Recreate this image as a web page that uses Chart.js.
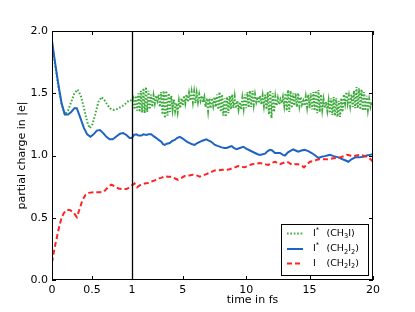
<!DOCTYPE html>
<html>
<head>
<meta charset="utf-8">
<script src="https://cdn.jsdelivr.net/npm/chart.js@4/dist/chart.umd.min.js"></script>
<style>
html,body{margin:0;padding:0;background:#fff;}
#wrap{width:415px;height:312px;position:relative;}
</style>
</head>
<body>
<div id="wrap"><canvas id="c" width="415" height="312"></canvas></div>
<script>
// ---- tick labels ----
const xTickTimes = [0, 0.5, 1, 5, 10, 15, 20];
const xTickLabels = ['0', '0.5', '1', '5', '10', '15', '20'];
const yTickValues = [0, 0.5, 1, 1.5, 2];
const xTitle = 'time in fs';
const yTitle = 'partial charge in |e|';

// ---- series: [time in fs, partial charge] ----
const iStarCH3I = [
 [0,1.91],[0.04,1.72],[0.08,1.55],[0.12,1.41],[0.16,1.33],[0.2,1.36],[0.24,1.43],[0.28,1.50],
 [0.32,1.53],[0.36,1.48],[0.4,1.38],[0.44,1.27],[0.47,1.22],[0.5,1.24],[0.54,1.33],[0.58,1.43],
 [0.62,1.47],[0.66,1.44],[0.7,1.40],[0.74,1.37],[0.78,1.365],[0.82,1.375],[0.86,1.39],[0.9,1.405],
 [0.94,1.43],[0.97,1.445],[1.0,1.44],
 [1.1,1.46],[1.2,1.37],[1.3,1.48],[1.4,1.36],[1.5,1.50],[1.6,1.35],[1.7,1.52],[1.8,1.345],[1.9,1.54],[2.0,1.34],
 [2.1,1.55],[2.2,1.35],[2.3,1.52],[2.4,1.37],[2.5,1.49],[2.6,1.39],[2.7,1.48],[2.8,1.42],[2.9,1.48],[3.0,1.44],
 [3.1,1.49],[3.2,1.39],[3.3,1.51],[3.4,1.33],[3.5,1.52],[3.6,1.30],[3.7,1.52],[3.8,1.32],[3.9,1.50],[4.0,1.35],
 [4.1,1.48],[4.2,1.37],[4.3,1.45],[4.4,1.36],[4.5,1.42],[4.6,1.35],[4.7,1.44],[4.8,1.38],[4.9,1.46],[5.0,1.40],
 [5.1,1.48],[5.2,1.42],[5.3,1.49],[5.4,1.43],[5.5,1.50],[5.6,1.44],[5.7,1.51],[5.8,1.43],[5.9,1.51],[6.0,1.42],
 [6.1,1.50],[6.2,1.43],[6.3,1.49],[6.4,1.44],[6.5,1.48],[6.6,1.43],[6.7,1.47],[6.8,1.39],[6.9,1.46],[7.0,1.36],
 [7.1,1.46],[7.2,1.38],[7.3,1.46],[7.4,1.40],[7.5,1.47],[7.6,1.39],[7.7,1.49],[7.8,1.37],[7.9,1.51],[8.0,1.35],
 [8.1,1.49],[8.2,1.32],[8.3,1.46],[8.4,1.31],[8.5,1.47],[8.6,1.34],[8.7,1.48],[8.8,1.37],[8.9,1.49],[9.0,1.38],
 [9.1,1.47],[9.2,1.38],[9.3,1.44],[9.4,1.37],[9.5,1.43],[9.6,1.37],[9.7,1.46],[9.8,1.38],[9.9,1.49],[10.0,1.38],
 [10.1,1.51],[10.2,1.385],[10.3,1.52],[10.4,1.39],[10.5,1.52],[10.6,1.41],[10.7,1.49],[10.8,1.43],[10.9,1.47],[11.0,1.42],
 [11.1,1.48],[11.2,1.41],[11.3,1.48],[11.4,1.40],[11.5,1.49],[11.6,1.37],[11.7,1.51],[11.8,1.33],[11.9,1.525],[12.0,1.30],
 [12.1,1.50],[12.2,1.35],[12.3,1.47],[12.4,1.40],[12.5,1.46],[12.6,1.41],[12.7,1.45],[12.8,1.42],[12.9,1.47],[13.0,1.40],
 [13.1,1.50],[13.2,1.36],[13.3,1.525],[13.4,1.35],[13.5,1.52],[13.6,1.38],[13.7,1.50],[13.8,1.40],[13.9,1.50],[14.0,1.39],
 [14.1,1.50],[14.2,1.40],[14.3,1.47],[14.4,1.41],[14.5,1.44],[14.6,1.40],[14.7,1.47],[14.8,1.39],[14.9,1.49],[15.0,1.38],
 [15.1,1.50],[15.2,1.37],[15.3,1.51],[15.4,1.36],[15.5,1.52],[15.6,1.34],[15.7,1.525],[15.8,1.35],[15.9,1.49],[16.0,1.37],
 [16.1,1.45],[16.2,1.38],[16.3,1.43],[16.4,1.36],[16.5,1.44],[16.6,1.34],[16.7,1.46],[16.8,1.325],[16.9,1.47],[17.0,1.32],
 [17.1,1.46],[17.2,1.31],[17.3,1.44],[17.4,1.31],[17.5,1.46],[17.6,1.35],[17.7,1.49],[17.8,1.42],[17.9,1.51],[18.0,1.42],
 [18.1,1.48],[18.2,1.40],[18.3,1.49],[18.4,1.39],[18.5,1.52],[18.6,1.38],[18.7,1.55],[18.8,1.38],[18.9,1.54],[19.0,1.37],
 [19.1,1.53],[19.2,1.36],[19.3,1.51],[19.4,1.36],[19.5,1.48],[19.6,1.37],[19.7,1.45],[19.8,1.39],[19.9,1.43],[20.0,1.40]
];
const iStarCH2I2 = [
 [0,1.92],[0.04,1.74],[0.08,1.57],[0.12,1.42],[0.16,1.33],[0.2,1.33],[0.24,1.35],[0.28,1.38],
 [0.31,1.38],[0.35,1.31],[0.4,1.22],[0.44,1.17],[0.48,1.15],[0.52,1.17],[0.56,1.20],[0.6,1.205],
 [0.64,1.18],[0.68,1.15],[0.72,1.13],[0.76,1.13],[0.8,1.15],[0.85,1.175],[0.89,1.18],[0.93,1.165],
 [0.97,1.14],[1.0,1.14],
 [1.15,1.165],[1.34,1.17],[1.5,1.16],[1.73,1.16],[1.9,1.17],[2.13,1.165],[2.3,1.17],[2.52,1.17],
 [2.7,1.155],[2.92,1.14],[3.1,1.125],[3.31,1.11],[3.45,1.09],[3.58,1.085],[3.75,1.095],[3.97,1.10],
 [4.15,1.115],[4.37,1.125],[4.55,1.14],[4.76,1.15],[4.95,1.14],[5.15,1.125],[5.35,1.11],[5.55,1.10],
 [5.75,1.09],[5.94,1.085],[6.15,1.10],[6.34,1.11],[6.6,1.12],[6.86,1.13],[7.05,1.12],[7.25,1.11],
 [7.54,1.085],[7.8,1.075],[8.07,1.065],[8.3,1.06],[8.47,1.06],[8.7,1.07],[8.86,1.075],[9.05,1.06],
 [9.25,1.05],[9.5,1.06],[9.78,1.07],[10.0,1.055],[10.3,1.04],[10.5,1.03],[10.7,1.02],[10.9,1.01],
 [11.09,1.005],[11.3,1.01],[11.49,1.015],[11.7,1.035],[11.88,1.045],[12.05,1.04],[12.27,1.02],
 [12.5,1.02],[12.67,1.02],[12.9,1.005],[13.06,1.0],[13.3,1.025],[13.46,1.035],[13.7,1.05],[13.9,1.04],
 [14.1,1.03],[14.35,1.04],[14.6,1.045],[14.9,1.035],[15.17,1.02],[15.45,1.0],[15.7,0.98],[15.95,0.99],
 [16.2,0.995],[16.4,1.0],[16.6,1.005],[16.9,0.995],[17.27,0.985],[17.6,0.97],[17.85,0.96],[18.05,0.95],
 [18.3,0.97],[18.6,0.985],[18.9,0.985],[19.24,0.99],[19.5,1.0],[19.75,1.005],[20.0,1.01]
];
const iCH2I2 = [
 [0,0.14],[0.03,0.25],[0.06,0.34],[0.09,0.43],[0.12,0.50],[0.15,0.54],[0.19,0.565],[0.23,0.56],
 [0.27,0.54],[0.31,0.505],[0.34,0.56],[0.38,0.64],[0.42,0.685],[0.46,0.70],[0.52,0.705],[0.6,0.705],
 [0.65,0.71],[0.7,0.745],[0.74,0.765],[0.78,0.755],[0.83,0.735],[0.88,0.73],[0.93,0.73],[0.97,0.745],
 [1.0,0.76],
 [1.2,0.775],[1.4,0.745],[1.6,0.76],[1.8,0.765],[2.0,0.775],[2.3,0.78],[2.5,0.79],[2.8,0.80],
 [3.05,0.815],[3.3,0.82],[3.6,0.835],[3.8,0.83],[4.1,0.83],[4.4,0.815],[4.63,0.805],[4.9,0.82],
 [5.15,0.835],[5.5,0.84],[5.8,0.845],[6.1,0.84],[6.34,0.83],[6.6,0.84],[6.86,0.85],[7.2,0.865],
 [7.5,0.88],[7.8,0.88],[8.17,0.885],[8.5,0.885],[8.7,0.89],[9.0,0.90],[9.36,0.915],[9.6,0.91],
 [9.88,0.905],[10.2,0.92],[10.46,0.93],[10.8,0.935],[11.1,0.94],[11.4,0.93],[11.75,0.925],[12.0,0.94],
 [12.27,0.95],[12.67,0.93],[12.9,0.94],[13.2,0.95],[13.4,0.94],[13.6,0.925],[13.85,0.93],[14.1,0.93],
 [14.35,0.92],[14.56,0.905],[14.8,0.93],[15.03,0.95],[15.3,0.955],[15.56,0.965],[15.8,0.97],
 [16.08,0.97],[16.4,0.97],[16.75,0.975],[17.1,0.98],[17.4,0.985],[17.7,0.995],[17.93,1.005],[18.2,1.0],
 [18.45,0.995],[18.7,1.0],[18.98,1.005],[19.2,1.0],[19.5,0.99],[19.75,0.975],[20.0,0.95]
];
const seriesLabels = ['I^*  (CH_3I)', 'I^*  (CH_2I_2)', 'I   (CH_2I_2)'];
const seriesColors = ['#3cab3c', '#1f64c0', '#ff2222'];

// ---- broken time axis: 0..1 fs linear, 1..20 fs compressed ----
const BREAK = 1, SLOPE = 0.15855;
function tr(t) { return t <= BREAK ? t : BREAK + (t - BREAK) * SLOPE; }
function toXY(arr) { return arr.map(p => ({x: tr(p[0]), y: p[1]})); }

const FONT = '"DejaVu Sans", sans-serif';

const styles = [
  {borderWidth: 2, borderDash: [1.6, 1.8]},
  {borderWidth: 2, borderDash: []},
  {borderWidth: 2, borderDash: [5, 3]}
];

function drawRich(ctx, text, x, y, size) {
  // '_d' => subscript digit, '^c' => superscript char
  let cx = x;
  for (let i = 0; i < text.length; i++) {
    const ch = text[i];
    if ((ch === '_' || ch === '^') && i + 1 < text.length) {
      const s = text[i + 1]; i++;
      ctx.font = (size * 0.7).toFixed(1) + 'px ' + FONT;
      const dy = ch === '_' ? size * 0.3 : -size * 0.35;
      ctx.fillText(s, cx, y + dy);
      cx += ctx.measureText(s).width;
    } else {
      ctx.font = size + 'px ' + FONT;
      ctx.fillText(ch, cx, y);
      cx += ctx.measureText(ch).width;
    }
  }
}

const decor = {
  id: 'decor',
  afterDatasetsDraw(chart) {
    const ctx = chart.ctx, a = chart.chartArea;
    const xs = chart.scales.x, ys = chart.scales.y;
    ctx.save();
    ctx.strokeStyle = '#000';
    ctx.lineWidth = 1;
    // frame
    ctx.strokeRect(Math.round(a.left) + 0.5, Math.round(a.top) + 0.5,
                   Math.round(a.right - a.left) - 1, Math.round(a.bottom - a.top) - 1);
    // break line at t = 1
    const xb = Math.round(xs.getPixelForValue(tr(BREAK))) + 0.5;
    ctx.lineWidth = 1.3;
    ctx.beginPath(); ctx.moveTo(xb, a.top); ctx.lineTo(xb, a.bottom); ctx.stroke();
    ctx.lineWidth = 1;
    // inward ticks
    ctx.beginPath();
    xTickTimes.forEach(t => {
      const px = Math.round(xs.getPixelForValue(tr(t))) + 0.5;
      ctx.moveTo(px, a.bottom); ctx.lineTo(px, a.bottom - 4);
      ctx.moveTo(px, a.top); ctx.lineTo(px, a.top + 4);
    });
    yTickValues.forEach(v => {
      const py = Math.round(ys.getPixelForValue(v)) + 0.5;
      ctx.moveTo(a.left, py); ctx.lineTo(a.left + 4, py);
      ctx.moveTo(a.right, py); ctx.lineTo(a.right - 4, py);
    });
    ctx.stroke();
    // axis titles
    ctx.fillStyle = '#000';
    ctx.font = '11px ' + FONT;
    ctx.textAlign = 'center';
    ctx.textBaseline = 'middle';
    const xc = (xs.getPixelForValue(tr(BREAK)) + a.right) / 2;
    ctx.fillText(xTitle, xc, 300);
    ctx.save();
    ctx.translate(22, (a.top + a.bottom) / 2);
    ctx.rotate(-Math.PI / 2);
    ctx.fillText(yTitle, 0, 0);
    ctx.restore();
    // legend
    const L = 281, R = 369, T = 224, B = 276;
    ctx.fillStyle = '#fff';
    ctx.fillRect(L, T, R - L, B - T);
    ctx.strokeStyle = '#000';
    ctx.strokeRect(L + 0.5, T + 0.5, R - L - 1, B - T - 1);
    const rows = [233.5, 249, 263.5];
    ctx.textAlign = 'left';
    ctx.textBaseline = 'middle';
    seriesLabels.forEach((lab, i) => {
      const y = rows[i];
      ctx.strokeStyle = seriesColors[i];
      ctx.lineWidth = styles[i].borderWidth;
      ctx.setLineDash(styles[i].borderDash);
      ctx.beginPath(); ctx.moveTo(287, y); ctx.lineTo(303, y); ctx.stroke();
      ctx.setLineDash([]);
      ctx.fillStyle = '#000';
      const k = lab.indexOf('(');
      drawRich(ctx, lab.slice(0, k).trim(), 313, y, 9.5);
      drawRich(ctx, lab.slice(k), 326.5, y, 9.5);
    });
    ctx.restore();
  }
};

const datasets = [iStarCH3I, iStarCH2I2, iCH2I2].map((d, i) => ({
  label: seriesLabels[i],
  data: toXY(d),
  borderColor: seriesColors[i],
  backgroundColor: seriesColors[i],
  borderWidth: styles[i].borderWidth,
  borderDash: styles[i].borderDash,
  pointRadius: 0,
  tension: 0,
  fill: false,
  order: 3 - i
}));

new Chart(document.getElementById('c'), {
  type: 'line',
  data: {datasets},
  plugins: [decor],
  options: {
    responsive: false,
    animation: false,
    devicePixelRatio: 1,
    layout: {padding: {left: 0, top: 31, right: 42, bottom: 0}},
    plugins: {legend: {display: false}, tooltip: {enabled: false}},
    scales: {
      x: {
        type: 'linear',
        min: 0,
        max: tr(20),
        grid: {display: false, drawTicks: false},
        border: {display: false},
        afterBuildTicks: s => { s.ticks = xTickTimes.map(t => ({value: tr(t)})); },
        afterFit: s => { s.height = 32; },
        ticks: {
          autoSkip: false, maxRotation: 0, padding: 4, color: '#000',
          font: {family: FONT, size: 11},
          callback: (v, i) => xTickLabels[i]
        }
      },
      y: {
        type: 'linear',
        min: 0,
        max: 2,
        grid: {display: false, drawTicks: false},
        border: {display: false},
        afterBuildTicks: s => { s.ticks = yTickValues.map(v => ({value: v})); },
        afterFit: s => { s.width = 52; },
        ticks: {
          padding: 4, color: '#000',
          font: {family: FONT, size: 11},
          callback: v => v.toFixed(1)
        }
      }
    }
  }
});
</script>
</body>
</html>
